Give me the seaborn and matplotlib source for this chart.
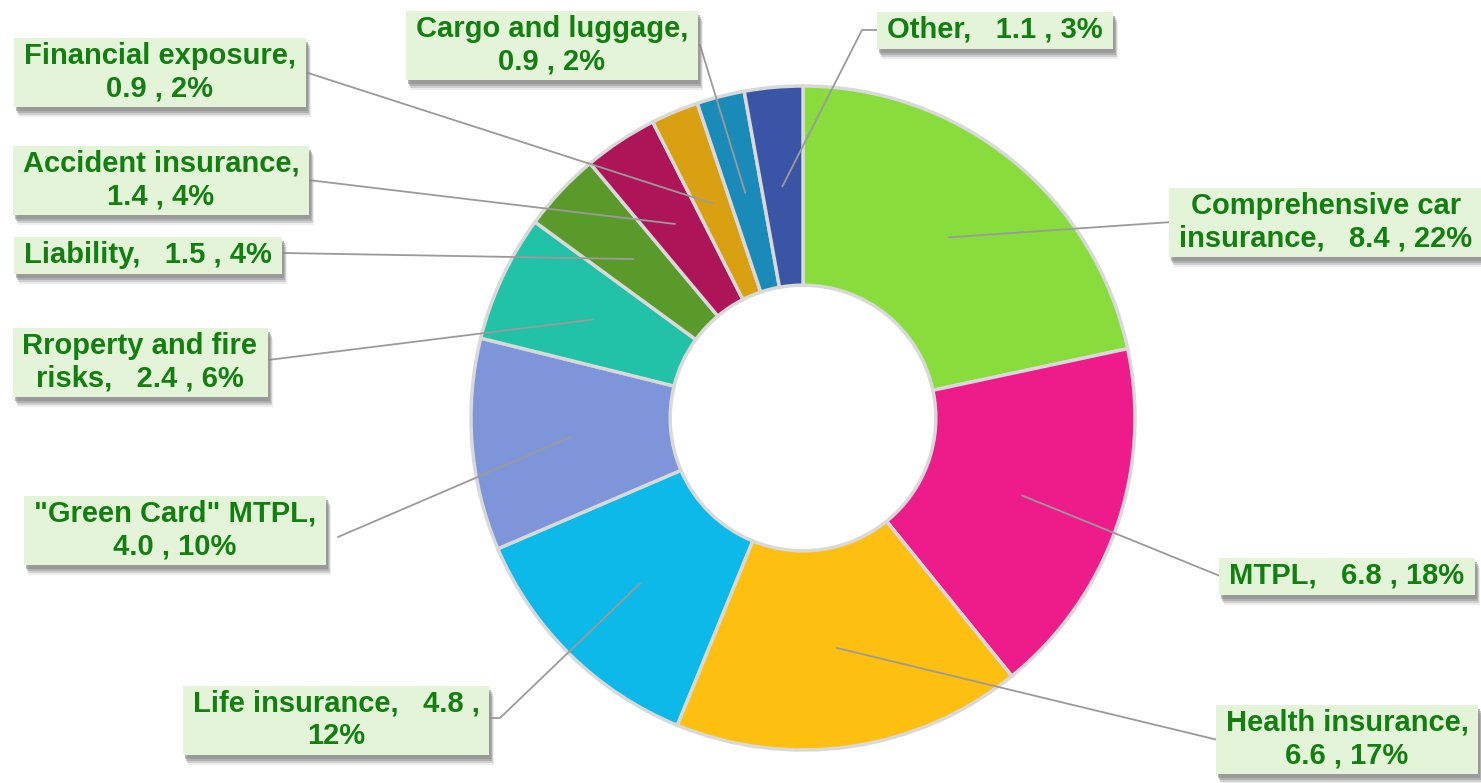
import matplotlib
matplotlib.use("Agg")
import matplotlib.pyplot as plt
from matplotlib.patches import Rectangle
import numpy as np
import seaborn as sns

# Insurance premiums by class (billions), share of total
categories = ["Comprehensive car insurance", "MTPL", "Health insurance",
              "Life insurance", '"Green Card" MTPL', "Rroperty and fire risks",
              "Liability", "Accident insurance", "Financial exposure",
              "Cargo and luggage", "Other"]
values = [8.4, 6.8, 6.6, 4.8, 4.0, 2.4, 1.5, 1.4, 0.9, 0.9, 1.1]
percents = [22, 18, 17, 12, 10, 6, 4, 4, 2, 2, 3]
label_texts = [
    "Comprehensive car\ninsurance,   8.4 , 22%",
    "MTPL,   6.8 , 18%",
    "Health insurance,\n6.6 , 17%",
    "Life insurance,   4.8 ,\n12%",
    '"Green Card" MTPL,\n4.0 , 10%',
    "Rroperty and fire\nrisks,   2.4 , 6%",
    "Liability,   1.5 , 4%",
    "Accident insurance,\n1.4 , 4%",
    "Financial exposure,\n0.9 , 2%",
    "Cargo and luggage,\n0.9 , 2%",
    "Other,   1.1 , 3%",
]
colors = ["#88DD3C", "#EE1C8A", "#FDC010", "#0CB9E8", "#7F95DA", "#22C2A8",
          "#5A9A2A", "#AE1458", "#D9A012", "#1A8AB8", "#3A55A6"]

# label layout (pixel space, y down): text centre and leader end point
label_pos = [(1326, 222), (1347, 576), (1347, 739), (336, 720), (175, 530),
             (140, 362), (148, 255), (161, 180), (160, 72), (552, 45), (995, 30)]
leader_end = [(1172, 222), (1220, 576), (1218, 740), (490, 718), (338, 537),
              (268, 360), (283, 253), (308, 180), (305, 72), (698, 45), (878, 30)]
leader_knee = [None, None, None, (500, 718), None, None, None, None, None,
               (700, 45), (862, 30)]

W, H = 1481, 783
sns.set_theme(style="white")
plt.rcParams["font.family"] = ["Liberation Sans", "DejaVu Sans"]

fig = plt.figure(figsize=(W / 100, H / 100), dpi=100)
ax = fig.add_axes([0, 0, 1, 1])
ax.axis("off")


def py(y):
    return H - y


cx, cy, R = 803, py(418), 332
wedges, _ = ax.pie(values, colors=colors, startangle=90, counterclock=False,
                   center=(cx, cy), radius=R,
                   wedgeprops=dict(width=R * 0.6, edgecolor="#d9d9d9",
                                   linewidth=2.5))
ax.set_xlim(0, W)
ax.set_ylim(0, H)
ax.set_aspect("equal")

texts = []
for w, txt, pos, end, knee in zip(wedges, label_texts, label_pos,
                                  leader_end, leader_knee):
    ang = np.deg2rad((w.theta1 + w.theta2) / 2)
    ax_, ay_ = cx + 0.7 * R * np.cos(ang), cy + 0.7 * R * np.sin(ang)
    pts = [(ax_, ay_)]
    if knee is not None:
        pts.append((knee[0], py(knee[1])))
    pts.append((end[0], py(end[1])))
    xs, ys = zip(*pts)
    ax.plot(xs, ys, color="#9a9a9a", lw=1.3, zorder=5)
    t = ax.text(pos[0], py(pos[1]), txt, color="#137F10", ha="center",
                va="center", multialignment="center", fontsize=21,
                fontweight="bold", linespacing=1.2, zorder=8)
    texts.append(t)

# label boxes with a soft drop shadow
fig.canvas.draw()
renderer = fig.canvas.get_renderer()
inv = ax.transData.inverted()
for t in texts:
    bb = t.get_window_extent(renderer)
    (x0, y0), (x1, y1) = inv.transform([(bb.x0 - 10, bb.y0 - 5),
                                        (bb.x1 + 10, bb.y1 + 4)])
    for k, a in [(10, 0.15), (8, 0.3), (6, 0.45), (4, 0.6)]:
        ax.add_patch(Rectangle((x0 + k / 2, y0 - k), x1 - x0, y1 - y0,
                               fc="#8c8c8c", ec="none", alpha=a, zorder=6))
    ax.add_patch(Rectangle((x0, y0), x1 - x0, y1 - y0, fc="#E3F4D9",
                           ec="none", zorder=7))

fig.savefig("out.png", dpi=100)
